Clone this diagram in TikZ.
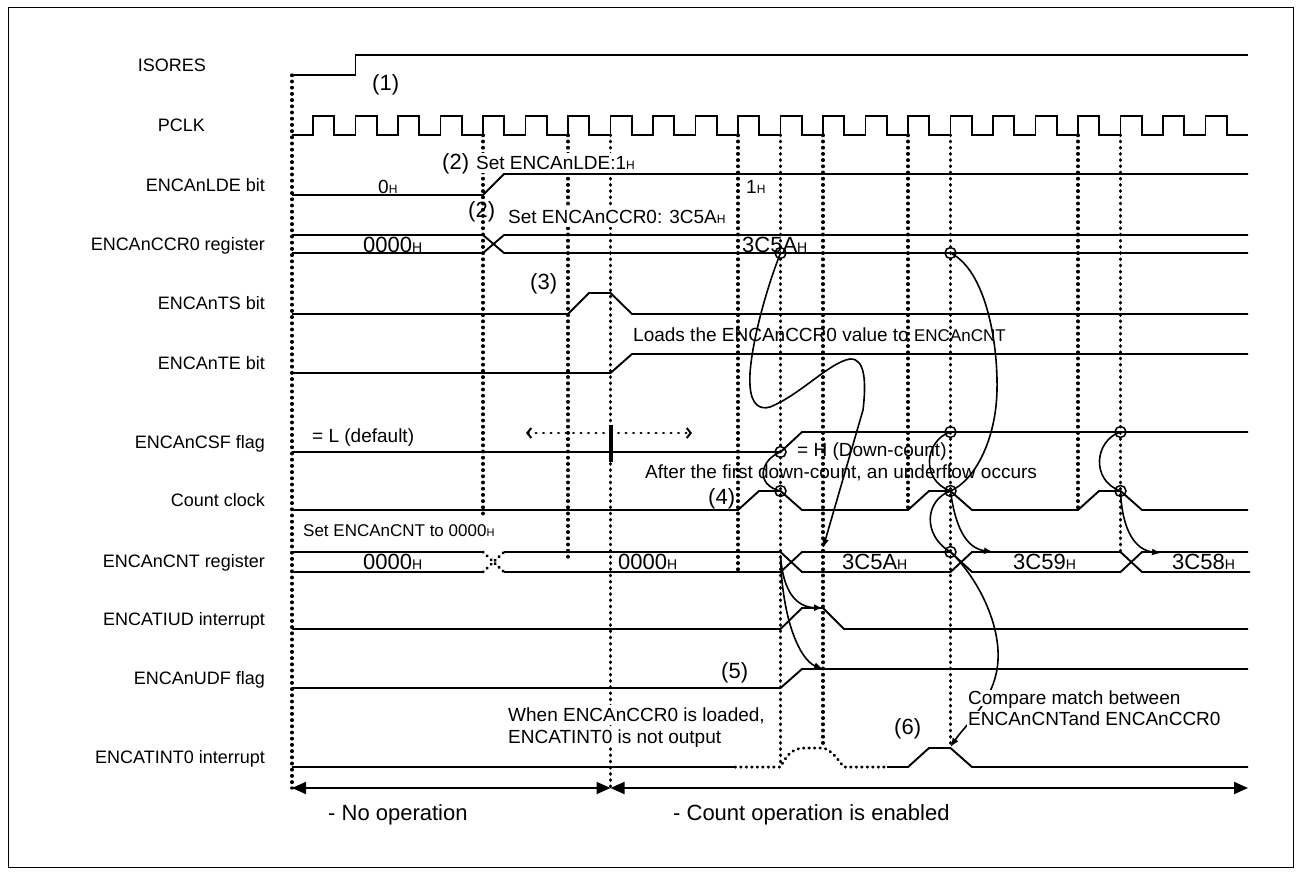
\documentclass[tikz,border=0pt]{standalone}
\usepackage{fontspec}
\setmainfont{Liberation Sans}
\usetikzlibrary{arrows.meta}
\newcommand{\subH}[1][12]{{\fontsize{#1}{#1}\selectfont H}}
\begin{document}
\begin{tikzpicture}[x=1pt,y=-1pt,
  sig/.style={line width=1.9pt, line join=miter},
  dots/.style={line width=3.3pt, dash pattern=on 0.6pt off 5.6pt, line cap=round},
  sdots/.style={line width=3pt, dash pattern=on 0.5pt off 5pt, line cap=round},
  crv/.style={line width=1.6pt},
  tip/.style={-{Latex[length=9pt,width=7pt]}},
  circ/.style={line width=1.5pt},
  lbl/.style={anchor=east, inner sep=0pt, text height=12.9pt, text depth=0pt, font=\fontsize{18}{20}\selectfont},
  txt/.style={anchor=west, inner sep=0pt, text height=13.6pt, text depth=0pt, font=\fontsize{19}{21}\selectfont},
  big/.style={anchor=west, inner sep=0pt, text height=15.8pt, text depth=0pt, font=\fontsize{22}{24}\selectfont},
  wbg/.style={fill=white, inner xsep=1pt, inner ysep=3pt},
  bigarrow/.style={line width=1.9pt, {Triangle[length=14pt,width=12pt]}-{Triangle[length=14pt,width=12pt]}},
]
\useasboundingbox (0,0) rectangle (1301,875);
\draw[line width=1pt] (8,8) rectangle (1293,867);

% ---- row labels
\node[lbl] (lisores) at (206,65) {ISORES};
\node[lbl] (lpclk) at (205,125) {PCLK};
\node[lbl] (llde) at (265,185) {ENCAnLDE bit};
\node[lbl] (lccr) at (265,244) {ENCAnCCR0 register};
\node[lbl] (lts) at (265,303) {ENCAnTS bit};
\node[lbl] (lte) at (265,363) {ENCAnTE bit};
\node[lbl] (lcsf) at (265,442) {ENCAnCSF flag};
\node[lbl] (lcc) at (265,500) {Count clock};
\node[lbl] (lcnt) at (265,561) {ENCAnCNT register};
\node[lbl] (liud) at (265,619) {ENCATIUD interrupt};
\node[lbl] (ludf) at (265,678) {ENCAnUDF flag};
\node[lbl] (lint) at (265,757) {ENCATINT0 interrupt};

% ---- dotted vertical lines
\draw[dots] (292,75) -- (292,788);
\draw[dots] (483,135) -- (483,518);
\draw[dots] (568,135) -- (568,557);
\draw[dots] (610.5,135) -- (610.5,788);
\draw[dots] (738,135) -- (738,570);
\draw[dots] (780.5,135) -- (780.5,767);
\draw[dots] (823,135) -- (823,748);
\draw[dots] (908,135) -- (908,510);
\draw[dots] (950.5,135) -- (950.5,747);
\draw[dots] (1078,135) -- (1078,510);
\draw[dots] (1120.5,135) -- (1120.5,552);
\draw[line width=4pt] (610.5,425) -- (610.5,462);

% ---- texts with opaque background (they hide the dotted lines)
\node[txt, wbg] (t2a) at (475,163) {Set ENCAnLDE:1\subH};
\node[txt, wbg] (t2b) at (507,217) {Set ENCAnCCR0: 3C5A\subH};
\node[txt, wbg] (tw1) at (507,715) {When ENCAnCCR0 is loaded,};
\node[txt, wbg] (tw2) at (507,737) {ENCATINT0 is not output};

% ---- waveforms
\draw[sig] (292,75) -- (355.5,75) -- (355.5,55) -- (1248,55);
\draw[sig] (292,135) \foreach \k in {0,...,21}{ -- ({313+42.5*\k},135) -- ({313+42.5*\k},116) -- ({334.25+42.5*\k},116) -- ({334.25+42.5*\k},135)} -- (1248,135);
\draw[sig] (292,195) -- (483,195) -- (504,174) -- (1248,174);
\draw[sig] (292,235) -- (483,235) -- (504,253) -- (1248,253);
\draw[sig] (292,253) -- (483,253) -- (504,235) -- (1248,235);
\draw[sig] (292,314) -- (568,314) -- (589,293) -- (610.5,293) -- (632,314) -- (1248,314);
\draw[sig] (292,373) -- (610.5,373) -- (632,354) -- (1248,354);
\draw[sig] (292,452) -- (780.5,452) -- (802,432) -- (1248,432);
\draw[sig] (292,510) -- (738,510) -- (759,491) -- (780.5,491) -- (802,510) -- (908,510) -- (929,491) -- (950.5,491) -- (972,510) -- (1078,510) -- (1099,491) -- (1120.5,491) -- (1142,510) -- (1248,510);
\draw[sig] (292,552) -- (483,552);
\draw[sig] (292,572) -- (483,572);
\draw[sdots] (483,552) -- (504,572);
\draw[sdots] (483,572) -- (504,552);
\draw[sig] (504,552) -- (780.5,552) -- (802,572) -- (950.5,572) -- (972,552) -- (1120.5,552) -- (1142,572) -- (1250,572);
\draw[sig] (504,572) -- (780.5,572) -- (802,552) -- (950.5,552) -- (972,572) -- (1120.5,572) -- (1142,552) -- (1248,552);
\draw[sig] (292,629) -- (780.5,629) -- (802,608) -- (823,608) -- (844,629) -- (1248,629);
\draw[sig] (292,688) -- (780.5,688) -- (802,669) -- (1248,669);
\draw[sig] (292,767) -- (735,767);
\draw[sdots] (735,767) -- (780.5,767) .. controls (788,752) and (795,748) .. (805,748) -- (823,748) .. controls (832,750) and (838,760) .. (844,767) -- (887,767);
\draw[sig] (887,767) -- (908,767) -- (929,748) -- (950.5,748) -- (972,767) -- (1248,767);

% ---- bottom range arrows
\coordinate (r0) at (292,788);
\coordinate (r1) at (610.5,788);
\coordinate (r2) at (1248,788);
\draw[bigarrow] (r0) -- (r1);
\draw[bigarrow] (r1) -- (r2);

% ---- CSF dotted double arrow
\draw[line width=2.6pt, dash pattern=on 0.5pt off 7pt, line cap=round, {Straight Barb[length=4pt,width=10pt,line width=2pt]}-{Straight Barb[length=4pt,width=10pt,line width=2pt]}] (526,433) -- (692,433);

% ---- marker circles
\foreach \p in {(780.5,253),(950.5,253),(780.5,452),(950.5,432),(1120.5,432),(780.5,491),(950.5,491),(1120.5,491),(950.5,552)}
  \draw[circ] \p circle (5.5);

% ---- curved connectors
\coordinate (ccrA) at (780.5,253);
\coordinate (ccrB) at (950.5,253);
\draw[crv, tip] (ccrA) .. controls (762,300) and (748,360) .. (750,385) .. controls (751,405) and (760,410) .. (770,407) .. controls (800,395) and (830,362) .. (850,359) .. controls (866,358) and (866,385) .. (863,410) -- (823,548);
\draw[crv] (ccrB) .. controls (985,270) and (998,340) .. (997,390) .. controls (996,440) and (975,480) .. (950.5,491);
\draw[crv] (780.5,452) .. controls (760,460) and (755,485) .. (780.5,491);
\draw[crv] (950.5,432) .. controls (925,440) and (920,480) .. (950.5,491);
\draw[crv] (1120.5,432) .. controls (1095,440) and (1090,480) .. (1120.5,491);
\draw[crv] (950.5,491) .. controls (925,500) and (922,535) .. (950.5,552);
\draw[crv, tip] (950.5,491) .. controls (955,525) and (965,548) .. (993,552);
\draw[crv, tip] (1120.5,491) .. controls (1122,530) and (1135,550) .. (1161,553);
\draw[crv, tip] (780.5,556) .. controls (783,590) and (795,607) .. (823,608);
\draw[crv, tip] (780.5,556) .. controls (782,620) and (800,660) .. (823,669);
\draw[crv, tip] (950.5,552) .. controls (975,575) and (1000,620) .. (998,660) .. controls (996,700) and (965,725) .. (950.5,747);

% ---- annotations
\node[big] (n1) at (372,83) {(1)};
\node[big] (n2a) at (442,162) {(2)};
\node[big] (n2b) at (468,210) {(2)};
\node[txt] (v0h) at (378,187) {0\subH};
\node[txt] (v1h) at (746,187) {1\subH};
\node[big] (c0) at (363,245) {0000\subH[14]};
\node[big] (c1) at (742,245) {3C5A\subH[14]};
\node[big] (n3) at (530,282) {(3)};
\node[txt] (tload) at (633,335) {Loads the ENCAnCCR0 value to {\fontsize{17}{18}\selectfont ENCAnCNT}};
\node[txt] (tl) at (312,436) {= L (default)};
\node[txt] (th) at (797,450) {= H (Down-count)};
\node[txt] (tafter) at (645,472) {After the first down-count, an underflow occurs};
\node[big] (n4) at (708,497) {(4)};
\node[txt, text height=12pt, font=\fontsize{17}{18}\selectfont] (tset) at (303,530) {Set ENCAnCNT to 0000\subH[11]};
\node[big] (k0) at (363,562) {0000\subH[14]};
\node[big] (k1) at (618,562) {0000\subH[14]};
\node[big] (k2) at (842,562) {3C5A\subH[14]};
\node[big] (k3) at (1013,562) {3C59\subH[14]};
\node[big] (k4) at (1172,562) {3C58\subH[14]};
\node[big] (n5) at (721,671) {(5)};
\node[big] (n6) at (894,727) {(6)};
\node[txt, fill=white, inner sep=1pt] (tc1) at (967,698) {Compare match between};
\node[txt, fill=white, inner sep=1pt] (tc2) at (967,719) {ENCAnCNTand ENCAnCCR0};
\node[big] (tno) at (328,813) {- No operation};
\node[big] (tyes) at (673,813) {- Count operation is enabled};
\end{tikzpicture}
\end{document}
